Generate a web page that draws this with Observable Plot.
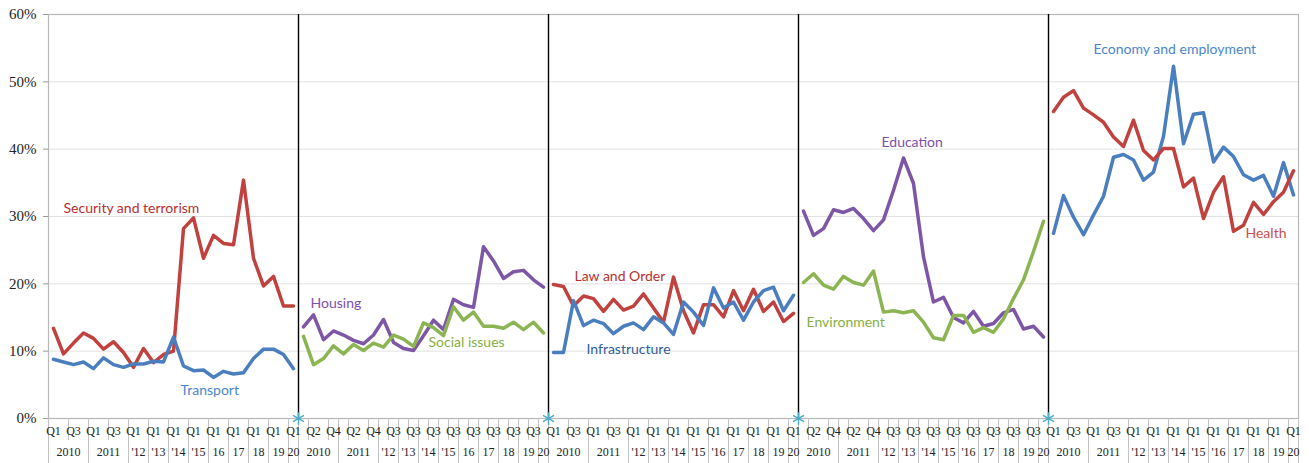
<!DOCTYPE html>
<html>
<head>
<meta charset="utf-8">
<script src="https://cdn.jsdelivr.net/npm/d3@7"></script>
<script src="https://cdn.jsdelivr.net/npm/@observablehq/plot@0.6"></script>
<style>
  html, body { margin: 0; padding: 0; background: #fff; }
  #chart { position: absolute; left: 0; top: 0; }
  #chart svg { font-family: 'Liberation Serif', 'Times New Roman', serif; }
  #chart svg [aria-label="y-axis tick"] { stroke: #9a9a9a; }
  #chart svg [aria-label="y-axis tick label"] { font-family: 'Liberation Serif', 'Times New Roman', serif; font-size: 15px; fill: #222; }
  #chart svg .tick line { stroke: #9a9a9a; }
  #chart svg .tick text { font-family: 'Liberation Serif', 'Times New Roman', serif; font-size: 15px; }
</style>
</head>
<body>
<div id="chart"></div>
<script>
// ---------- category labels (one panel = 25 periods) ----------
const quarterLabels = ["Q1","Q2","Q3","Q4","Q1","Q2","Q3","Q4",
  "Q1","Q3","Q1","Q3","Q1","Q3","Q1","Q3","Q1","Q3","Q1","Q3","Q1","Q3","Q1","Q3","Q1"];
const yearGroupSizes = [4, 4, 2, 2, 2, 2, 2, 2, 2, 2, 1];
const yearLabelsA = ["2010","2011","'12","'13","'14","'15","16","17","18","19","20"];
const yearLabelsB = ["2010","2011","'12","'13","'14","'15","'16","17","18","19","20"];
const yTicks = [0, 0.1, 0.2, 0.3, 0.4, 0.5, 0.6];

// ---------- series values (%) ----------
const security = [13.4,9.6,11.2,12.7,11.9,10.3,11.4,9.8,7.6,10.4,8.3,9.5,10.0,28.2,29.8,23.8,27.2,26.0,25.8,35.4,23.8,19.7,21.1,16.7,16.7];
const transport = [8.8,8.4,8.0,8.4,7.4,9.0,8.0,7.6,8.1,8.1,8.5,8.4,12.1,7.8,7.1,7.2,6.1,7.0,6.6,6.8,8.9,10.3,10.3,9.5,7.4];
const housing = [13.6,15.4,11.7,13.0,12.4,11.6,11.1,12.4,14.7,11.3,10.4,10.1,12.3,14.6,13.2,17.7,16.9,16.5,25.5,23.4,20.8,21.8,22.0,20.6,19.5];
const social = [12.2,8.0,8.9,10.8,9.6,11.0,10.1,11.2,10.6,12.4,11.8,10.7,14.2,13.5,12.3,16.6,14.6,15.8,13.7,13.7,13.4,14.3,13.2,14.3,12.7];
const lawOrder = [19.9,19.6,16.7,18.2,17.8,15.9,17.7,16.1,16.7,18.5,16.4,14.3,21.0,16.0,12.7,16.9,16.9,15.1,19.0,16.0,19.2,15.9,17.3,14.4,15.6];
const infrastructure = [9.8,9.8,17.5,13.8,14.6,14.1,12.6,13.7,14.2,13.2,15.1,14.2,12.5,17.3,15.8,13.8,19.4,16.4,17.3,14.6,17.3,19.0,19.5,16.0,18.3];
const education = [30.8,27.2,28.2,31.0,30.6,31.2,29.7,27.9,29.5,33.9,38.7,34.9,24.0,17.3,18.0,15.0,14.2,15.9,13.7,14.1,15.7,16.2,13.3,13.7,12.1];
const environment = [20.2,21.5,19.8,19.2,21.1,20.2,19.8,21.9,15.8,16.0,15.7,16.0,14.3,12.0,11.7,15.3,15.3,12.8,13.5,12.8,14.8,17.8,20.6,24.8,29.3];
const economy = [27.5,33.1,29.9,27.3,30.2,33.0,38.8,39.2,38.4,35.4,36.6,41.9,52.3,40.8,45.2,45.4,38.1,40.3,38.9,36.2,35.4,36.1,33.0,38.0,33.2];
const health = [45.6,47.7,48.7,46.1,45.1,44.0,41.8,40.4,44.3,39.8,38.4,40.1,40.1,34.4,35.7,29.7,33.6,35.9,27.8,28.7,32.1,30.3,32.2,33.6,36.8];

const seriesNames = ["Security and terrorism","Transport","Housing","Social issues","Law and Order",
  "Infrastructure","Education","Environment","Economy and employment","Health"];

// ---------- layout / styles ----------
const panelSeries = [
  [["Security and terrorism", security], ["Transport", transport]],
  [["Housing", housing], ["Social issues", social]],
  [["Law and Order", lawOrder], ["Infrastructure", infrastructure]],
  [["Education", education], ["Environment", environment]],
  [["Economy and employment", economy], ["Health", health]]
];
const lineColor = {
  "Security and terrorism": "#C0413E", "Transport": "#4A7EBF",
  "Housing": "#7D56A6", "Social issues": "#8DB452",
  "Law and Order": "#C0413E", "Infrastructure": "#4A7EBF",
  "Education": "#7D56A6", "Environment": "#8DB452",
  "Economy and employment": "#4A7EBF", "Health": "#C0413E"
};
const textColor = {
  "Security and terrorism": "#B8302E", "Transport": "#4A86CC",
  "Housing": "#7D4FAA", "Social issues": "#86AE44",
  "Law and Order": "#B8302E", "Infrastructure": "#2F5E9E",
  "Education": "#7D4FAA", "Environment": "#86AE44",
  "Economy and employment": "#4A86CC", "Health": "#C8504D"
};
// label anchor: [category index, value %]
const labelAnchor = {
  "Security and terrorism": [1.0, 31.2], "Transport": [12.7, 4.2],
  "Housing": [25.7, 17.1], "Social issues": [37.5, 11.3],
  "Law and Order": [52.1, 21.1], "Infrastructure": [53.3, 10.2],
  "Education": [82.8, 41.0], "Environment": [75.3, 14.3],
  "Economy and employment": [104.0, 54.8], "Health": [119.2, 27.5]
};

const W = 1309, H = 463;
const mTop = 14, mBottom = 45, mLeft = 48, mRight = 11;
const nPer = quarterLabels.length;
const nPanels = panelSeries.length;
const nCat = nPer * nPanels;
const unitsPerPx = 0.6 / (H - mTop - mBottom);
const below = px => -px * unitsPerPx;

// ---------- build rows ----------
const rows = [];
panelSeries.forEach((ps, p) => ps.forEach(([name, vals]) =>
  vals.forEach((v, k) => rows.push({i: p * nPer + k, v: v / 100, name}))));

const labelRows = seriesNames.map(n => ({name: n, i: labelAnchor[n][0], v: labelAnchor[n][1] / 100}));

const separators = d3.range(1, nPanels).map(p => p * nPer - 0.5);

const qIdx = d3.range(0, nCat, 2);
const shortTicks = d3.range(-0.5, nCat, 2);

const yearRows = [];
const groupBounds = [];
for (let p = 0; p < nPanels; p++) {
  const labs = p < 2 ? yearLabelsA : yearLabelsB;
  let s = p * nPer;
  yearGroupSizes.forEach((g, gi) => {
    yearRows.push({x: s + (g - 1) / 2, t: labs[gi]});
    groupBounds.push(s - 0.5);
    s += g;
  });
}
groupBounds.push(nCat - 0.5);

const serif = "'Liberation Serif', 'Times New Roman', serif";

const chart = Plot.plot({
  width: W, height: H,
  marginTop: mTop, marginBottom: mBottom, marginLeft: mLeft, marginRight: mRight,
  style: {fontFamily: serif, fontSize: "15px", color: "#222", background: "#fff", overflow: "visible"},
  x: {type: "linear", domain: [-0.5, nCat - 0.5], axis: null},
  y: {domain: [0, 0.6], ticks: yTicks, tickFormat: d => Math.round(d * 100) + "%", tickSize: 5, tickPadding: 7, label: null},
  marks: [
    Plot.ruleY(yTicks.slice(1, -1), {stroke: "#e2e2e2", strokeWidth: 1}),
    Plot.frame({stroke: "#b8b8b8", strokeWidth: 1.2}),
    // x-axis level-1 tick marks
    Plot.ruleX(shortTicks, {x: d => d, y1: 0, y2: below(22), stroke: "#c4c4c4", strokeWidth: 1}),
    // x-axis level-2 group separators
    Plot.ruleX(groupBounds, {x: d => d, y1: 0, y2: below(45), stroke: "#c4c4c4", strokeWidth: 1}),
    Plot.text(qIdx, {x: d => d, y: 0, text: d => quarterLabels[d % nPer], dy: 13,
      fontFamily: serif, fontSize: 12, fill: "#222"}),
    Plot.text(yearRows, {x: "x", y: 0, text: "t", dy: 34, fontFamily: serif, fontSize: 12, fill: "#222"}),
    // panel separators
    Plot.ruleX(separators, {x: d => d, stroke: "#000", strokeWidth: 1.4}),
    Plot.line(rows, {x: "i", y: "v", z: "name", stroke: d => lineColor[d.name], strokeWidth: 3.5,
      strokeLinejoin: "round", strokeLinecap: "round"}),
    Plot.dot(separators, {x: d => d, y: 0, symbol: "asterisk", r: 6, stroke: "#4BACC6", strokeWidth: 1.5}),
    Plot.text(labelRows, {x: "i", y: "v", text: "name", fill: d => textColor[d.name], textAnchor: "start",
      fontFamily: "Lato, 'Open Sans', sans-serif", fontSize: 14})
  ]
});
document.getElementById("chart").appendChild(chart);
</script>
</body>
</html>
